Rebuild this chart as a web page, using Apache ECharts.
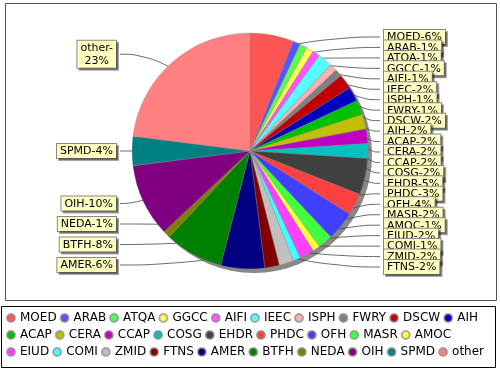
<!DOCTYPE html>
<html>
<head>
<meta charset="utf-8">
<script src="https://cdn.jsdelivr.net/npm/echarts@6/dist/echarts.min.js"></script>
<style>
html,body{margin:0;padding:0;background:#fff;}
#chart{width:500px;height:370px;}
</style>
</head>
<body>
<div id="chart"></div>
<script>
const categories = ['MOED','ARAB','ATQA','GGCC','AIFI','IEEC','ISPH','FWRY','DSCW','AIH',
  'ACAP','CERA','CCAP','COSG','EHDR','PHDC','OFH','MASR','AMOC',
  'EIUD','COMI','ZMID','FTNS','AMER','BTFH','NEDA','OIH','SPMD','other'];
const values = [6,1,1,1,1,2,1,1,2,2,
  2,2,2,2,5,3,4,2,1,
  2,1,2,2,6,8,1,10,4,23];
const colors = ['#FF5555','#5555FF','#55FF55','#FFFF55','#FF55FF','#55FFFF','#FFAFAF','#808080','#C00000','#0000C0',
  '#00C000','#C0C000','#C000C0','#00C0C0','#404040','#FF4040','#4040FF','#40FF40','#FFFF40',
  '#FF40FF','#40FFFF','#C0C0C0','#800000','#000080','#008000','#808000','#800080','#008080','#FF8080'];

const chart = echarts.init(document.getElementById('chart'), null, {renderer:'canvas'});
const font = 'DejaVu Sans';
const seriesTop = 30, seriesBottom = 96;
const cx = 250, cy = 151, R = 118;

// label layout helpers (JFreeChart-like): right labels spread evenly,
// left labels on an ellipse, pushed up from the bottom bound when overlapping
const total = values.reduce((a,b)=>a+b,0);
const midFrac = [];
let acc = 0;
values.forEach(v=>{ midFrac.push((acc + v/2)/total); acc += v; });
const rightIdx = [], leftIdx = [];
midFrac.forEach((m,i)=>{ (m < 0.5 ? rightIdx : leftIdx).push(i); });
const rightTopY = 37, rightBottomY = 267;
const labelY = {};
rightIdx.forEach((i,k)=>{ labelY[i] = rightTopY + k*(rightBottomY-rightTopY)/(rightIdx.length-1); });
const labelR = 129, leftBottomY = 265, leftGap = 20.5;
let prevY = Infinity;
leftIdx.forEach(i=>{ // ordered bottom to top
  let y = cy - Math.cos(midFrac[i]*2*Math.PI)*labelR;
  y = Math.min(y, leftBottomY, prevY - leftGap);
  labelY[i] = y; prevY = y;
});

chart.setOption({
  animation:false,
  backgroundColor:'#fff',
  color: colors,
  graphic:[
    {type:'rect', shape:{x:5.5,y:3.5,width:491,height:297}, style:{fill:'#fff', stroke:'#555', lineWidth:1}, z:-10},
    {type:'rect', shape:{x:1.5,y:306.5,width:494,height:61}, style:{fill:'#fff', stroke:'#000', lineWidth:1}, z:-10}
  ],
  legend:{
    data: categories,
    left:6, top:311, width:485,
    orient:'horizontal',
    icon:'circle', itemWidth:8, itemHeight:8, itemGap:3,
    padding:0,
    textStyle:{fontFamily:font, fontSize:12, color:'#000', lineHeight:14},
    selectedMode:false
  },
  series:[
    {
      type:'pie', silent:true,
      left:0, right:0, top:seriesTop, bottom:seriesBottom,
      center:[cx+4, cy-seriesTop+4], radius:[0,R],
      data:[{value:1, name:'shadow', itemStyle:{color:'#888'}}],
      label:{show:false}, labelLine:{show:false}, z:1
    },
    {
      type:'pie',
      left:0, right:0, top:seriesTop, bottom:seriesBottom,
      center:[cx, cy-seriesTop], radius:[0,R],
      startAngle:90, clockwise:true,
      avoidLabelOverlap:true,
      labelLayout: function(params){
        const pts = params.labelLinePoints;
        if (!pts) return {hideOverlap:false};
        const p0 = pts[0];
        const ux = (p0[0]-cx)/R, uy = (p0[1]-cy)/R;
        const start = [cx + ux*R*0.88, cy + uy*R*0.88];
        const y = labelY[params.dataIndex];
        const endX = pts[2][0];
        const midX = start[0] + (endX - start[0])*0.6;
        return {y: y, labelLinePoints:[start, [midX, y], [endX, y]], hideOverlap:false};
      },
      data: categories.map((c,i)=>({name:c, value:values[i]})),
      itemStyle:{borderColor:'rgba(140,140,140,0.7)', borderWidth:0.5},
      label:{
        show:true, position:'outer', alignTo:'labelLine',
        distanceToLabelLine:4, bleedMargin:2,
        fontFamily:font, fontSize:11, color:'#000', lineHeight:13,
        backgroundColor:'#FFFFC0', borderColor:'#888', borderWidth:1,
        padding:[1,3,0,3],
        shadowColor:'rgba(0,0,0,0.35)', shadowOffsetX:2, shadowOffsetY:2, shadowBlur:0,
        rich:{ c:{align:'center', fontFamily:font, fontSize:11, color:'#000', lineHeight:13} },
        formatter: p => {
          const pct = Math.round(p.percent) + '%';
          return p.name === 'other'
            ? '{c|' + p.name + '-}\n{c|' + pct + '}'
            : p.name + '-' + pct;
        }
      },
      labelLine:{show:true, length:8, length2:4, smooth:0.5, lineStyle:{color:'#444', width:0.8}},
      emphasis:{disabled:true},
      z:2
    }
  ]
});
</script>
</body>
</html>
